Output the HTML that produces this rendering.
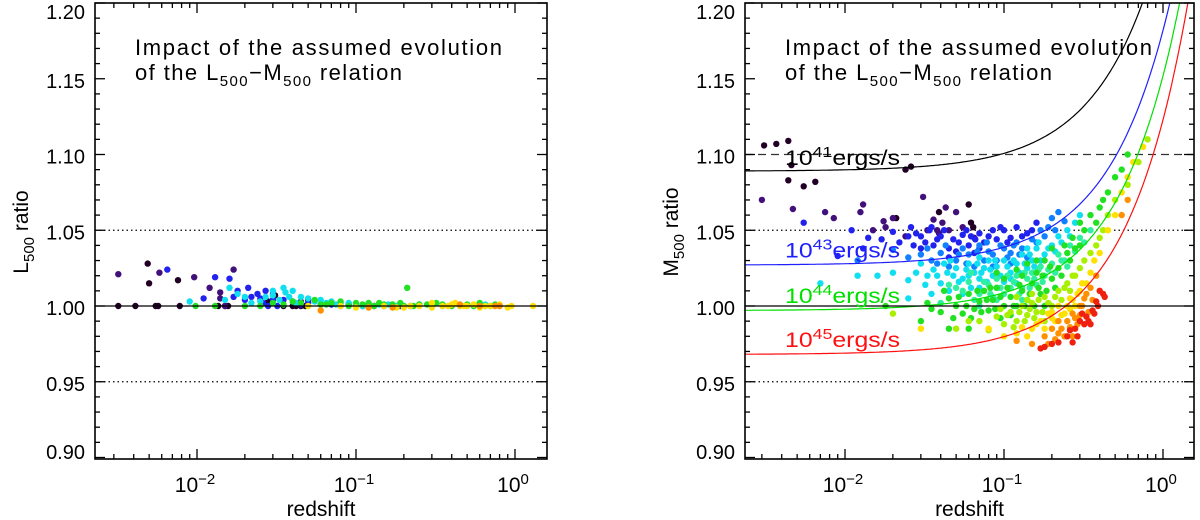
<!DOCTYPE html>
<html><head><meta charset="utf-8"><style>
html,body{margin:0;padding:0;background:#fff;}
svg{display:block;font-family:"Liberation Sans",sans-serif;}
</style></head><body>
<svg id="fig" width="1200" height="520" viewBox="0 0 1200 520"></svg>
<script>
// ---------- DATA ----------
const yTicks = [0.90,0.95,1.00,1.05,1.10,1.15,1.20];
const yTickLabels = ["0.90","0.95","1.00","1.05","1.10","1.15","1.20"];
const xDecades = [-2,-1,0];
const xTickLabelsExp = ["\u22122","\u22121","0"];
const curveBase = [1.089,1.027,0.997,0.968];
const curveColors = ["#000000","#2020ff","#00e000","#ff1010"];
const curveLabelExp = ["41","43","44","45"];
const curveLabelVal = [1.093,1.032,1.002,0.973];
const curveAmp = 0.155;
const curvePow = 1.12;
const groupColors = ["#220026","#42107a","#2222ee","#1080ff","#10dff0","#30f0a0","#22e022","#a8f000","#ffe000","#ff9000","#f02010"];

const rDark=[[0.0031,1.106],[0.0037,1.107],[0.0044,1.109],[0.0046,1.093],[0.0044,1.083],[0.0055,1.079],[0.0065,1.082],[0.024,1.09],[0.026,1.092],[0.039,1.062],[0.062,1.055],[0.064,1.052],[0.06,1.067],[0.021,1.058]];
const rPurple=[[0.003,1.07],[0.0047,1.064],[0.0075,1.062],[0.0085,1.058],[0.0125,1.062],[0.013,1.067],[0.015,1.05],[0.0175,1.056],[0.018,1.052],[0.02,1.058],[0.031,1.072],[0.036,1.057],[0.038,1.05],[0.039,1.048],[0.041,1.055],[0.043,1.065],[0.045,1.05],[0.05,1.062],[0.055,1.052],[0.065,1.045],[0.024,1.046],[0.033,1.05]];
const rBlue=[[0.0055,1.055],[0.011,1.05],[0.014,1.045],[0.017,1.044],[0.02,1.049],[0.022,1.042],[0.025,1.046],[0.027,1.04],[0.028,1.048],[0.03,1.038],[0.032,1.042],[0.034,1.05],[0.036,1.04],[0.04,1.046],[0.045,1.038],[0.048,1.044],[0.05,1.036],[0.055,1.047],[0.06,1.04],[0.07,1.048],[0.075,1.042],[0.085,1.05],[0.09,1.044],[0.1,1.05],[0.11,1.045],[0.12,1.052],[0.14,1.048],[0.16,1.055],[0.045,1.032],[0.065,1.035],[0.013,1.038],[0.009,1.033],
 [0.035,1.052],[0.042,1.05],[0.052,1.042],[0.058,1.05],[0.066,1.044],[0.08,1.046],[0.095,1.052],[0.105,1.042],[0.13,1.046],[0.15,1.05],[0.03,1.046],[0.026,1.052],[0.038,1.044],[0.07,1.038],[0.062,1.046]];
const rAzure=[[0.012,1.03],[0.02,1.037],[0.03,1.034],[0.035,1.03],[0.04,1.035],[0.05,1.03],[0.055,1.038],[0.06,1.034],[0.07,1.04],[0.08,1.036],[0.09,1.03],[0.1,1.038],[0.11,1.035],[0.12,1.042],[0.13,1.038],[0.15,1.044],[0.17,1.05],[0.19,1.052],[0.2,1.058],[0.22,1.062],[0.045,1.026],[0.075,1.03],[0.14,1.032],[0.065,1.026],
 [0.025,1.032],[0.033,1.038],[0.038,1.028],[0.043,1.04],[0.052,1.034],[0.058,1.028],[0.068,1.036],[0.078,1.042],[0.085,1.034],[0.095,1.04],[0.105,1.032],[0.115,1.04],[0.125,1.034],[0.16,1.042],[0.18,1.046],[0.21,1.05],[0.24,1.056],[0.085,1.026],[0.11,1.028]];
const rCyan=[[0.007,1.015],[0.012,1.02],[0.016,1.02],[0.02,1.022],[0.025,1.017],[0.03,1.028],[0.033,1.02],[0.036,1.024],[0.04,1.015],[0.042,1.028],[0.048,1.02],[0.05,1.025],[0.055,1.018],[0.06,1.028],[0.065,1.022],[0.07,1.018],[0.075,1.025],[0.08,1.03],[0.085,1.02],[0.09,1.026],[0.1,1.03],[0.11,1.022],[0.12,1.028],[0.13,1.034],[0.14,1.025],[0.15,1.03],[0.16,1.038],[0.18,1.034],[0.2,1.04],[0.22,1.046],[0.25,1.05],[0.28,1.055],[0.3,1.06],[0.045,1.01],[0.055,1.008],[0.07,1.012],[0.09,1.012],[0.1,1.016],[0.12,1.015],[0.035,1.008],[0.025,1.005],
 [0.028,1.022],[0.032,1.014],[0.038,1.02],[0.044,1.022],[0.046,1.03],[0.052,1.016],[0.058,1.024],[0.062,1.012],[0.068,1.028],[0.072,1.022],[0.078,1.016],[0.082,1.024],[0.088,1.03],[0.095,1.02],[0.105,1.026],[0.115,1.03],[0.125,1.022],[0.135,1.028],[0.145,1.034],[0.155,1.026],[0.17,1.03],[0.19,1.038],[0.21,1.036],[0.23,1.042],[0.26,1.046],[0.165,1.042],[0.14,1.038],[0.07,1.032],[0.06,1.02],[0.11,1.018]];
const rTeal=[[0.04,1.002],[0.05,1.012],[0.06,1.016],[0.065,1.004],[0.07,1.008],[0.08,1.014],[0.085,1.006],[0.09,1.018],[0.1,1.008],[0.11,1.012],[0.12,1.02],[0.13,1.012],[0.14,1.018],[0.15,1.022],[0.16,1.014],[0.17,1.026],[0.18,1.02],[0.2,1.028],[0.22,1.034],[0.24,1.03],[0.26,1.04],[0.3,1.045],[0.35,1.05],
 [0.045,1.014],[0.055,1.01],[0.062,1.022],[0.075,1.016],[0.082,1.008],[0.095,1.012],[0.105,1.02],[0.115,1.016],[0.125,1.008],[0.135,1.022],[0.145,1.012],[0.155,1.018],[0.165,1.024],[0.175,1.016],[0.19,1.024],[0.21,1.022],[0.23,1.03],[0.25,1.026],[0.28,1.036],[0.32,1.042],[0.07,1.0],[0.09,1.004],[0.13,1.004]];
const rGreen=[[0.018,1.0],[0.03,0.99],[0.033,1.002],[0.04,0.996],[0.045,1.005],[0.05,1.0],[0.055,0.995],[0.06,1.008],[0.065,0.998],[0.07,1.003],[0.075,1.01],[0.08,0.997],[0.085,1.004],[0.09,1.012],[0.1,1.0],[0.1,1.018],[0.11,1.006],[0.12,1.0],[0.12,1.024],[0.13,1.01],[0.14,1.004],[0.15,1.015],[0.16,1.022],[0.17,1.008],[0.18,1.03],[0.2,1.018],[0.2,1.038],[0.22,1.025],[0.25,1.035],[0.27,1.045],[0.3,1.04],[0.3,1.055],[0.35,1.06],[0.4,1.065],[0.45,1.075],[0.5,1.085],[0.55,1.09],[0.6,1.1],[0.045,0.985],[0.14,1.028],[0.09,1.022],
 [0.035,0.998],[0.042,1.01],[0.048,0.992],[0.052,1.006],[0.058,1.0],[0.062,0.992],[0.068,1.01],[0.072,0.996],[0.078,1.004],[0.082,1.012],[0.088,0.998],[0.095,1.006],[0.105,1.012],[0.115,1.0],[0.125,1.014],[0.135,1.0],[0.145,1.008],[0.155,1.0],[0.165,1.012],[0.175,1.02],[0.185,1.01],[0.195,1.026],[0.21,1.012],[0.23,1.02],[0.24,1.04],[0.26,1.03],[0.28,1.038],[0.32,1.05],[0.38,1.055],[0.42,1.07],[0.095,0.992],[0.06,0.985],[0.11,0.994],[0.13,1.02],[0.16,1.03],[0.18,1.0]];
const rYGreen=[[0.02,0.995],[0.05,0.985],[0.07,0.99],[0.09,0.993],[0.1,0.988],[0.11,0.996],[0.12,0.99],[0.13,1.0],[0.14,0.994],[0.15,1.002],[0.16,0.996],[0.18,1.006],[0.2,1.0],[0.22,1.01],[0.25,1.015],[0.28,1.02],[0.3,1.025],[0.35,1.035],[0.4,1.045],[0.45,1.06],[0.5,1.07],[0.6,1.08],[0.7,1.095],[0.8,1.11],[0.15,1.008],[0.18,0.99],
 [0.06,0.99],[0.08,0.984],[0.095,0.998],[0.105,0.994],[0.115,0.986],[0.125,0.996],[0.135,0.99],[0.145,0.998],[0.155,0.992],[0.165,1.004],[0.175,0.996],[0.19,1.002],[0.21,1.006],[0.23,1.004],[0.24,1.012],[0.26,1.01],[0.27,1.02],[0.32,1.03],[0.38,1.04],[0.42,1.05],[0.14,1.004],[0.12,1.006]];
const rYellow=[[0.03,0.985],[0.08,0.985],[0.12,0.982],[0.15,0.985],[0.17,0.99],[0.19,0.995],[0.21,0.99],[0.22,1.0],[0.24,0.995],[0.26,1.005],[0.28,1.0],[0.3,1.01],[0.33,1.015],[0.37,1.03],[0.45,1.05],[0.5,1.06],[0.55,1.075],[0.6,1.085],[0.65,1.095],[0.75,1.105],
 [0.1,0.98],[0.13,0.986],[0.14,0.98],[0.16,0.988],[0.18,0.985],[0.2,0.992],[0.23,0.994],[0.25,1.0],[0.27,1.004],[0.29,1.008],[0.31,1.015],[0.35,1.022],[0.4,1.035],[0.2,0.996],[0.26,0.998]];
const rOrange=[[0.12,0.977],[0.15,0.975],[0.18,0.98],[0.2,0.985],[0.22,0.982],[0.25,0.99],[0.27,0.995],[0.3,1.0],[0.32,1.005],[0.35,1.012],[0.38,1.02],[0.24,0.98],[0.29,0.988],[0.6,1.07],[0.55,1.06],
 [0.19,0.975],[0.21,0.978],[0.23,0.985],[0.26,0.986],[0.28,0.992],[0.31,1.0],[0.33,1.008],[0.36,1.004],[0.27,0.98],[0.22,0.99],[0.3,0.994],[0.34,0.996]];
const rRed=[[0.17,0.972],[0.18,0.973],[0.25,0.98],[0.28,0.985],[0.3,0.99],[0.33,0.993],[0.36,0.997],[0.38,1.003],[0.4,1.01],[0.42,1.008],[0.35,0.988],[0.31,0.995],
 [0.2,0.975],[0.22,0.976],[0.26,0.984],[0.29,0.98],[0.32,0.988],[0.34,0.99],[0.37,0.995],[0.39,1.0],[0.43,1.006],[0.27,0.976]];

const lDark=[[0.0032,1.0],[0.0041,1.0],[0.0055,1.0],[0.0057,1.0],[0.0078,1.0],[0.0136,1.0],[0.015,1.0],[0.0157,1.0],[0.04,1.0],[0.042,1.0],[0.045,1.0],[0.048,1.0],[0.035,1.0],[0.028,1.003],[0.0049,1.028],[0.005,1.015],[0.0076,1.017],[0.031,1.007],[0.05,1.004],[0.1,1.0],[0.11,1.0]];
const lPurple=[[0.0032,1.021],[0.0058,1.022],[0.0096,1.019],[0.017,1.024],[0.012,1.012],[0.014,1.009],[0.014,1.005],[0.015,1.0],[0.045,1.003],[0.13,1.0]];
const lBlue=[[0.0065,1.024],[0.013,1.019],[0.016,1.018],[0.011,1.005],[0.017,1.006],[0.02,1.004],[0.024,1.008],[0.025,1.005],[0.026,1.002],[0.028,1.0],[0.03,1.004],[0.032,1.0],[0.05,1.002],[0.07,1.001],[0.08,1.0],[0.15,1.0],[0.17,1.0],[0.19,1.0],[0.22,1.0],
 [0.022,1.006],[0.027,1.01],[0.03,1.008],[0.035,1.004],[0.04,1.003],[0.045,1.001],[0.06,1.001],[0.09,1.001],[0.12,1.0],[0.018,1.01],[0.021,1.012]];
const lCyan=[[0.009,1.003],[0.016,1.012],[0.018,1.008],[0.02,1.006],[0.03,1.007],[0.036,1.009],[0.04,1.01],[0.045,1.006],[0.05,1.005],[0.06,1.004],[0.07,1.003],[0.08,1.002],[0.1,1.001],[0.12,1.001],[0.2,1.0],[0.3,1.0],[0.4,1.0],[0.5,1.0],[0.015,1.004],[0.025,1.003],
 [0.022,1.002],[0.027,1.006],[0.033,1.004],[0.038,1.006],[0.042,1.002],[0.055,1.003],[0.065,1.002],[0.075,1.001],[0.09,1.002],[0.11,1.0],[0.14,1.001],[0.16,1.001],[0.18,1.0],[0.25,1.001],[0.35,1.0],[0.45,1.001],[0.55,1.0],[0.65,1.001],[0.03,1.01],[0.035,1.012]];
const lGreen=[[0.0098,1.0],[0.013,1.0],[0.02,1.0],[0.03,1.002],[0.04,1.003],[0.055,1.004],[0.06,1.001],[0.08,1.003],[0.1,1.002],[0.12,1.002],[0.15,1.001],[0.2,1.0],[0.21,1.012],[0.25,1.001],[0.3,1.0],[0.35,1.001],[0.45,1.0],[0.6,1.002],[0.7,1.0],[0.8,1.0],
 [0.025,1.0],[0.035,1.001],[0.045,1.002],[0.05,1.0],[0.065,1.001],[0.07,1.002],[0.09,1.0],[0.11,1.001],[0.13,1.0],[0.14,1.002],[0.17,1.001],[0.19,1.002],[0.23,1.0],[0.28,1.001],[0.32,1.002],[0.4,1.0],[0.5,1.001],[0.55,1.0],[0.65,1.0],[0.75,1.001]];
const lYellow=[[0.05,1.0],[0.12,0.999],[0.2,0.999],[0.25,1.0],[0.35,1.0],[0.4,1.001],[0.5,1.0],[0.55,1.001],[0.7,1.0],[0.9,0.999],[1.3,1.0],[0.45,1.0],
 [0.08,1.0],[0.1,0.999],[0.15,1.0],[0.18,0.999],[0.22,1.0],[0.3,0.999],[0.38,1.0],[0.42,1.002],[0.48,1.0],[0.6,0.999],[0.65,1.0],[0.8,1.001],[0.95,1.0],[0.3,1.002]];
const lOrange=[[0.06,0.997],[0.12,0.999],[0.45,1.001],[0.6,1.0],[0.75,1.0],[0.8,1.0],[0.17,0.999]];

const rightGroups=[rDark,rPurple,rBlue,rAzure,rCyan,rTeal,rGreen,rYGreen,rYellow,rOrange,rRed];
const rightGroupColor=[0,1,2,3,4,5,6,7,8,9,10];
const leftGroups=[lDark,lPurple,lBlue,lCyan,lGreen,lYellow,lOrange];
const leftGroupColor=[0,1,2,4,6,8,9];

// ---------- DRAWING ----------
const NS="http://www.w3.org/2000/svg";
const svg=document.getElementById('fig');
function mk(tag,attrs,parent){const e=document.createElementNS(NS,tag);for(const k in attrs)e.setAttribute(k,attrs[k]);(parent||svg).appendChild(e);return e;}

function panel(p){
  const g=mk('g',{});
  
  
  const X=z=>p.x10+159*(Math.log10(z)+2);
  const Y=v=>3+(1.20-v)*1515;
  const zmin=Math.pow(10,(p.left-p.x10)/159-2), zmax=Math.pow(10,(p.right-p.x10)/159-2);
  const clip='clip-'+p.name;
  const cp=mk('clipPath',{id:clip},g);mk('rect',{x:p.left,y:3,width:p.right-p.left,height:456},cp);
  const l1=mk('line',{x1:p.left,x2:p.right,y1:Y(1.05),y2:Y(1.05),stroke:'#000','stroke-width':1.2,'stroke-dasharray':'1.5,3'},g);
  
  
  const l2=mk('line',{x1:p.left,x2:p.right,y1:Y(0.95),y2:Y(0.95),stroke:'#000','stroke-width':1.2,'stroke-dasharray':'1.5,3'},g);
  
  
  if(p.curves){
    const l3=mk('line',{x1:p.left,x2:p.right,y1:Y(1.10),y2:Y(1.10),stroke:'#333','stroke-width':1.2,'stroke-dasharray':'8,5'},g);
    
    
  }
  const pg=mk('g',{'clip-path':'url(#'+clip+')'},g);
  p.groups.forEach((grp,gi)=>{
    grp.forEach(pt=>{
      const c=mk('circle',{cx:X(pt[0]).toFixed(1),cy:Y(pt[1]).toFixed(1),r:3.2,fill:groupColors[p.gcol[gi]]},pg);
      
      
    });
  });
  const l0=mk('line',{x1:p.left,x2:p.right,y1:Y(1.0),y2:Y(1.0),stroke:'#000','stroke-width':1.3},g);
  
  
  if(p.curves){
    curveBase.forEach((a,i)=>{
      let d='';
      for(let k=0;k<=300;k++){const lz=Math.log10(zmin)+(Math.log10(zmax)-Math.log10(zmin))*k/300;const z=Math.pow(10,lz);const v=a+curveAmp*Math.pow(z,curvePow);d+=(k?'L':'M')+X(z).toFixed(1)+','+Y(v).toFixed(1);}
      const c=mk('path',{d:d,fill:'none',stroke:curveColors[i],'stroke-width':1.2},pg);
      
      
      const t=mk('text',{x:p.left+40,y:Y(curveLabelVal[i]),'font-size':21,fill:curveColors[i],textLength:115,lengthAdjust:'spacingAndGlyphs'},g);
      
      
      t.innerHTML='10<tspan dy="-8" font-size="15">'+curveLabelExp[i]+'</tspan><tspan dy="8">ergs/s</tspan>';
    });
  }
  const fr=mk('rect',{x:p.left,y:3,width:p.right-p.left,height:456,fill:'none',stroke:'#000','stroke-width':1.6},g);
  
  
  for(let v=0.90;v<=1.2001;v+=0.01){
    const major=Math.abs(Math.round(v*100)%5)===0;const L=major?10:5;const y=Y(v);
    mk('line',{x1:p.left,x2:p.left+L,y1:y,y2:y,stroke:'#000','stroke-width':1.3},g);
    mk('line',{x1:p.right,x2:p.right-L,y1:y,y2:y,stroke:'#000','stroke-width':1.3},g);
  }
  yTicks.forEach((v,i)=>{
    let ty=Y(v)+9;ty=Math.max(ty,19);ty=Math.min(ty,459);
    const t=mk('text',{x:p.left-10,y:ty,'font-size':20,'text-anchor':'end',fill:'#000'},g);
    
    
    t.textContent=yTickLabels[i];
  });
  for(let d=-3;d<=0;d++)for(let m=1;m<=9;m++){
    const z=m*Math.pow(10,d);if(z<zmin||z>zmax)continue;const x=X(z);const L=m===1?10:5;
    mk('line',{x1:x,x2:x,y1:459,y2:459-L,stroke:'#000','stroke-width':1.3},g);
    mk('line',{x1:x,x2:x,y1:3,y2:3+L,stroke:'#000','stroke-width':1.3},g);
  }
  xDecades.forEach((d,i)=>{
    const t=mk('text',{x:X(Math.pow(10,d))-2,y:492,'font-size':21,'text-anchor':'middle',fill:'#000'},g);
    
    
    t.innerHTML='10<tspan dy="-8" font-size="15">'+xTickLabelsExp[i]+'</tspan>';
  });
  const xt=mk('text',{x:(p.left+p.right)/2,y:516,'font-size':21,'text-anchor':'middle',fill:'#000'},g);
  
  
  xt.textContent='redshift';
  const yt=mk('text',{x:0,y:0,'font-size':21,'text-anchor':'middle',fill:'#000',transform:'translate('+(p.left-67)+',232) rotate(-90)'},g);
  
  
  yt.innerHTML=p.ylab+'<tspan dy="6" font-size="15">500</tspan><tspan dy="-6"> ratio</tspan>';
  const a1=mk('text',{x:p.left+40,y:55,'font-size':22,fill:'#000',textLength:367,lengthAdjust:'spacing'},g);
  
  
  a1.textContent='Impact of the assumed evolution';
  const a2=mk('text',{x:p.left+40,y:80,'font-size':22,fill:'#000',textLength:267,lengthAdjust:'spacing'},g);
  
  
  a2.innerHTML='of the L<tspan dy="6" font-size="15">500</tspan><tspan dy="-6">\u2212M</tspan><tspan dy="6" font-size="15">500</tspan><tspan dy="-6"> relation</tspan>';
}
panel({name:'left-panel',left:95,right:547,x10:197,groups:leftGroups,gcol:leftGroupColor,curves:false,ylab:'L'});
panel({name:'right-panel',left:745,right:1194,x10:845,groups:rightGroups,gcol:rightGroupColor,curves:true,ylab:'M'});
</script>
</body></html>
